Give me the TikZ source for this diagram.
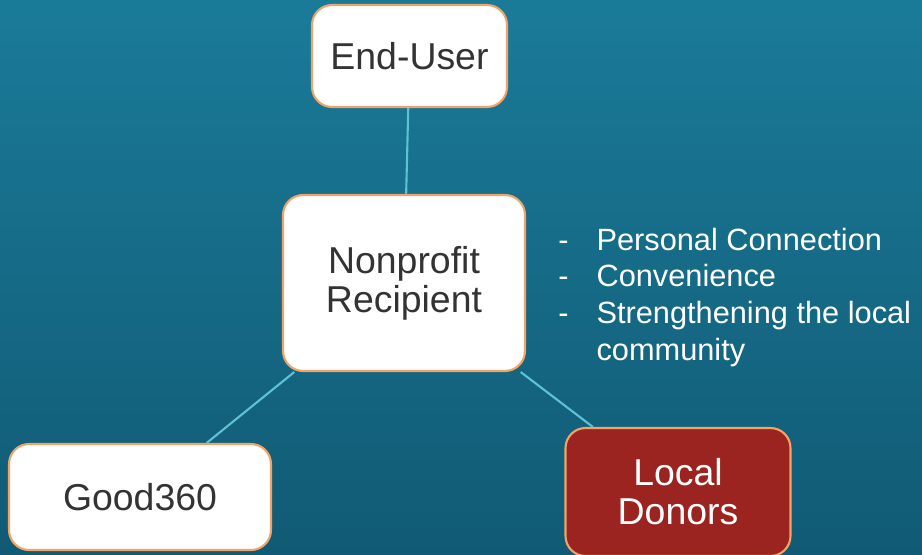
\documentclass[tikz,border=0pt]{standalone}
\usepackage{fontspec}
\setmainfont{Liberation Sans}
\usepackage{tikz}
\usetikzlibrary{positioning}

\definecolor{bgtop}{HTML}{1A7B99}
\definecolor{bgbot}{HTML}{115A74}
\definecolor{boxedge}{HTML}{F2A468}
\definecolor{boxtext}{HTML}{333333}
\definecolor{donorred}{HTML}{9B2420}
\definecolor{linkcyan}{HTML}{5EC2D2}

\begin{document}
\begin{tikzpicture}[
        x=0.02cm, y=-0.02cm,
        party/.style = {rectangle, rounded corners=0.4cm, draw=boxedge, line width=1.2pt, fill=white, align=center,
                        text=boxtext, font=\fontsize{21.3}{22.3}\selectfont},
        edge/.style = {draw=linkcyan, line width=1.2pt},
        note/.style = {text=white, inner sep=0pt, font=\fontsize{17.5}{21}\selectfont}
    ]
    \useasboundingbox[top color=bgtop, bottom color=bgbot] (0,0) rectangle (922,554);

    \node[party, minimum width=3.9cm, minimum height=2.04cm] (user) at (409.5,56) {End-User};
    \node[party, minimum width=4.84cm, minimum height=3.52cm] (np) at (404,283) {Nonprofit\\Recipient};
    \node[party, minimum width=5.24cm, minimum height=2.12cm] (good) at (140,497) {Good360};
    \node[party, minimum width=4.5cm, minimum height=2.56cm, fill=donorred, text=white] (donors) at (678,492) {Local\\Donors};

    \node[note, anchor=base west] (why) at (558,250) {%
        \begin{tabular}[t]{@{}l@{\hspace{0.56cm}}l@{}}
        - & Personal Connection\\
        - & Convenience\\
        - & Strengthening the local\\
          & community
        \end{tabular}};

    \draw[edge] (user) -- (np);
    \draw[edge] (np) -- (good);
    \draw[edge] (np) -- (donors);
\end{tikzpicture}
\end{document}
